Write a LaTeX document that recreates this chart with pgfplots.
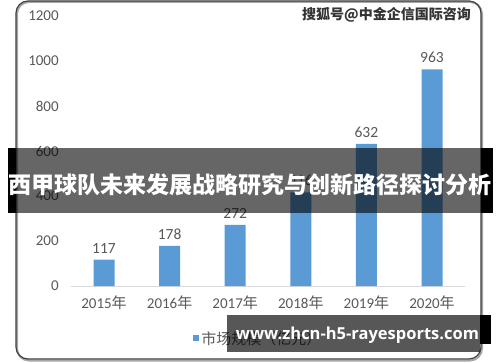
\documentclass[border=0pt]{standalone}
\usepackage{pgfplots}
\pgfplotsset{compat=1.18}
\usepackage{fontspec}
\setmainfont{Carlito}
\newfontfamily\cjk{Noto Sans CJK SC}
\newfontfamily\urlfont{Open Sans}
\definecolor{barblue}{HTML}{5B9BD5}
\definecolor{txtgray}{HTML}{595959}
\definecolor{basegray}{HTML}{D9D9D9}
\begin{document}
\begin{tikzpicture}[x=1pt,y=1pt]
\useasboundingbox (0,0) rectangle (500,362);
\fill[white] (0,0) rectangle (500,362);
\draw[black!35, line width=2pt, rounded corners=12pt] (17,1.5) rectangle (482,360);
\draw[black!75, line width=1.2pt, rounded corners=12pt] (16,3) rectangle (481,361);
\begin{axis}[
  at={(71.2pt,76pt)}, anchor=south west, scale only axis,
  width=393.6pt, height=270pt,
  xmin=-0.5, xmax=5.5, ymin=0, ymax=1200,
  ytick={0,200,400,600,800,1000,1200},
  xtick={0,1,2,3,4,5},
  xticklabels={2015{\cjk 年},2016{\cjk 年},2017{\cjk 年},2018{\cjk 年},2019{\cjk 年},2020{\cjk 年}},
  axis x line=bottom, axis y line=left,
  y axis line style={draw=none},
  x axis line style={draw=basegray, line width=1pt, -},
  major tick length=0pt,
  tick label style={font=\fontsize{15}{15}\selectfont, text=txtgray},
  /pgf/number format/assume math mode=true,
  /pgf/number format/1000 sep={},
  yticklabel style={xshift=-9pt},
  xticklabel style={yshift=-6pt},
  ybar, bar width=21pt,
  nodes near coords,
  nodes near coords style={font=\fontsize{15.5}{15.5}\selectfont, text=txtgray, yshift=3pt},
  clip=false,
  legend style={at={(axis description cs:0.31,-0.194)}, anchor=west, draw=none, fill=none, inner sep=0pt, font=\cjk\fontsize{15}{15}\selectfont, text=txtgray},
  legend image code/.code={\fill[barblue] (0pt,-3pt) rectangle (6pt,3pt);},
]
\addplot[fill=barblue, draw=none] coordinates {(0,117) (1,178) (2,272) (3,416) (4,632) (5,963)};
\addlegendentry{市场规模（亿元）}
\end{axis}
% banner
\fill[black, opacity=0.6] (8,149) rectangle (493,214);
\fill[black] (8,149) rectangle (16,214);
\fill[black] (481,149) rectangle (493,214);
\node[text=white, font=\cjk\bfseries\fontsize{23}{23}\selectfont, inner sep=0pt] at (250,177) {西甲球队未来发展战略研究与创新路径探讨分析};
% watermark
\node[anchor=east, inner sep=0pt, font=\cjk\bfseries\fontsize{14}{14}\selectfont, text=black!80] at (471,347) {搜狐号@中金企信国际咨询};
% url box
\fill[black, opacity=0.66] (227,10) rectangle (480,47);
\fill[black] (480,18) rectangle (491,47);
\node[text=white, inner sep=0pt, font=\urlfont\bfseries\fontsize{16.5}{16.5}\selectfont] at (357.5,27) {www.zhcn-h5-rayesports.com};
\end{tikzpicture}
\end{document}
